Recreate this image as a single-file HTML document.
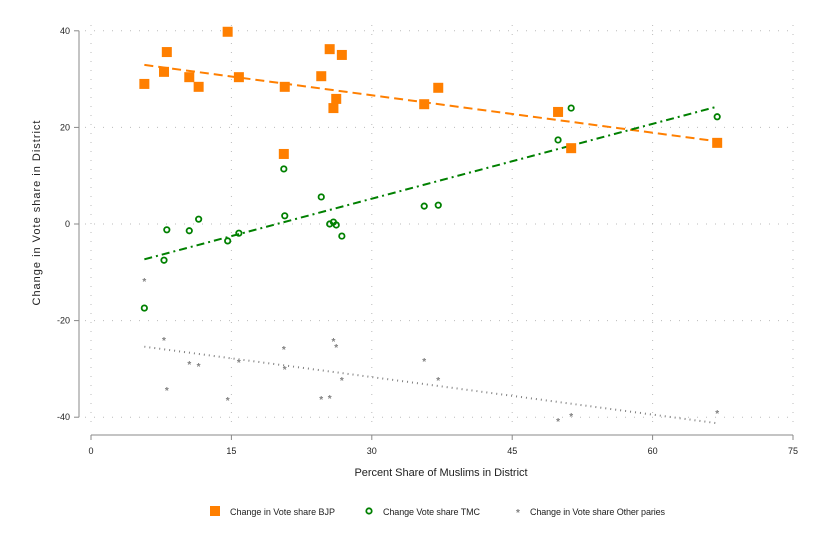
<!DOCTYPE html>
<html><head><meta charset="utf-8"><style>
body{margin:0;background:#fff;}
svg{display:block;font-family:"Liberation Sans",Arial,sans-serif;}
</style></head><body>
<svg id="chart" width="824" height="549">
<g id="grid"></g>
<g id="axes"></g>
<g id="marks"></g>
<text x="441" y="476" font-size="11" text-anchor="middle" fill="#222" textLength="173">Percent Share of Muslims in District</text>
<text transform="translate(40,213) rotate(-90)" font-size="11" text-anchor="middle" fill="#222" textLength="185">Change in Vote share in District</text>
<g font-size="9" fill="#222">
<g><rect x="210" y="506" width="10" height="10" fill="#ff7f00"/><text x="230" y="515" textLength="105">Change in Vote share BJP</text></g>
<g><circle cx="369" cy="511" r="2.7" fill="none" stroke="#008000" stroke-width="1.8"/><text x="383" y="515" textLength="97">Change Vote share TMC</text></g>
<g><text x="516" y="516" fill="#808080" font-size="10" font-weight="bold">*</text><text x="530" y="515" textLength="135">Change in Vote share Other paries</text></g>
</g>
</svg>
<script>
const xVals=[5.7,7.8,8.1,10.5,11.5,14.6,15.8,20.6,20.7,24.6,25.5,25.9,26.2,26.8,35.6,37.1,49.9,51.3,66.9];
const bjp=[29,31.5,35.6,30.4,28.4,39.8,30.4,14.5,28.4,30.6,36.2,24,25.9,35,24.8,28.2,23.2,15.7,16.8];
const tmc=[-17.4,-7.5,-1.2,-1.4,1,-3.5,-1.9,11.4,1.7,5.6,0,0.4,-0.2,-2.5,3.7,3.9,17.4,24,22.2];
const others=[-11.6,-23.8,-34.2,-28.8,-29.2,-36.2,-28.4,-25.7,-29.8,-36,-35.8,-24,-25.3,-32.1,-28.2,-32.1,-40.6,-39.5,-38.9];
const xTicks=[0,15,30,45,60,75];
const yTicks=[-40,-20,0,20,40];
const NS="http://www.w3.org/2000/svg";
const X=v=>91+v*9.36, Y=v=>224-v*4.83;
function mk(t,a,p){const e=document.createElementNS(NS,t);for(const k in a)e.setAttribute(k,a[k]);p.appendChild(e);return e;}
const grid=document.getElementById('grid'),axes=document.getElementById('axes'),marks=document.getElementById('marks');
xTicks.forEach(t=>{
 const l=mk('line',{x1:X(t),x2:X(t),y1:25,y2:425,stroke:'#bbb','stroke-dasharray':'1,8'},grid);
 
 
 mk('line',{x1:X(t),x2:X(t),y1:435,y2:440,stroke:'#888'},axes);
 const tx=mk('text',{x:X(t),y:454,'font-size':9,'text-anchor':'middle',fill:'#222'},axes);tx.textContent=t;
 
 
});
yTicks.forEach(t=>{
 const l=mk('line',{x1:85,x2:795,y1:Y(t),y2:Y(t),stroke:'#bbb','stroke-dasharray':'1,8'},grid);
 
 
 mk('line',{x1:74,x2:79,y1:Y(t),y2:Y(t),stroke:'#888'},axes);
 const tx=mk('text',{x:70,y:Y(t)+3,'font-size':9,'text-anchor':'end',fill:'#222'},axes);tx.textContent=t;
 
 
});
mk('line',{x1:79,x2:79,y1:Y(40),y2:Y(-40),stroke:'#888'},axes);
mk('line',{x1:X(0),x2:X(75),y1:435,y2:435,stroke:'#888'},axes);
function fit(ys){const n=xVals.length;let sx=0,sy=0,sxx=0,sxy=0;for(let i=0;i<n;i++){sx+=xVals[i];sy+=ys[i];sxx+=xVals[i]*xVals[i];sxy+=xVals[i]*ys[i];}
 const b=(n*sxy-sx*sy)/(n*sxx-sx*sx);return [b,(sy-b*sx)/n];}
function fitLine(ys,color,dash,name,w){const [b,a]=fit(ys);const x0=Math.min(...xVals),x1=Math.max(...xVals);
 const l=mk('line',{x1:X(x0),y1:Y(a+b*x0),x2:X(x1),y2:Y(a+b*x1),stroke:color,'stroke-width':w,'stroke-dasharray':dash},marks);
 
 }
fitLine(bjp,'#ff7f00','9,5','bjp-fit-line',2);
fitLine(tmc,'#008000','8,4,2,4','tmc-fit-line',2);
fitLine(others,'#808080','1,4','others-fit-line',2);
xVals.forEach((x,i)=>{
 const r=mk('rect',{x:X(x)-5,y:Y(bjp[i])-5,width:10,height:10,fill:'#ff7f00'},marks);
 
 
 const c=mk('circle',{cx:X(x),cy:Y(tmc[i]),r:2.7,fill:'none',stroke:'#008000','stroke-width':1.8},marks);
 
 
 const s=mk('text',{x:X(x),y:Y(others[i])+5,'font-size':10,'font-weight':'bold','text-anchor':'middle',fill:'#808080'},marks);s.textContent='*';
 
 
});
</script>
</body></html>
